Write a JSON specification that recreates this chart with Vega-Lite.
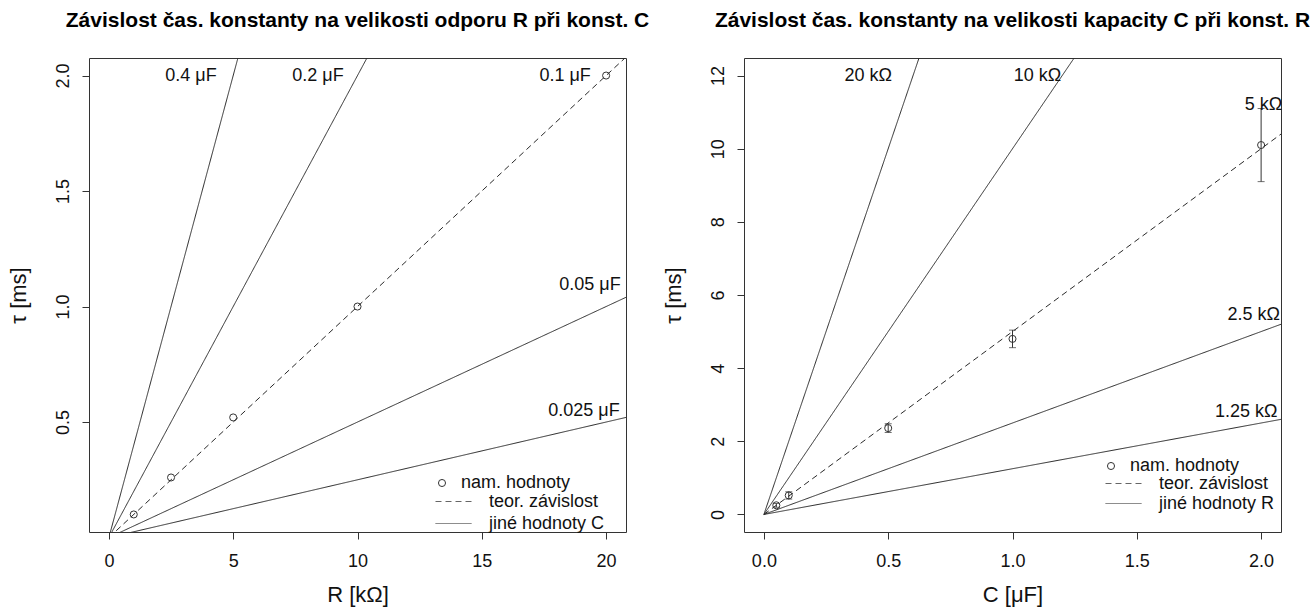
{
  "$schema": "https://vega.github.io/schema/vega-lite/v6.json",
  "background": "white",
  "padding": {"left": 6, "top": 9, "right": 5, "bottom": 5},
  "bounds": "flush",
  "spacing": 118,
  "resolve": {
    "scale": {"strokeDash": "independent", "shape": "independent", "x": "independent", "y": "independent"},
    "legend": {"strokeDash": "independent", "shape": "independent"}
  },
  "config": {
    "font": "Liberation Sans",
    "view": {"stroke": "#333", "strokeWidth": 1},
    "axis": {"domain": false, "grid": false, "ticks": true, "tickSize": 7, "tickColor": "#333", "tickWidth": 1,
      "labelFont": "Liberation Sans", "labelFontSize": 18, "labelColor": "#111", "labelFlush": false, "labelOverlap": false,
      "titleFont": "Liberation Sans", "titleFontSize": 22, "titleFontWeight": "normal", "titleColor": "#111"},
    "axisY": {"labelAngle": -90, "labelAlign": "center", "labelBaseline": "bottom", "labelPadding": 10, "titlePadding": 24},
    "axisX": {"labelPadding": 13, "titlePadding": 14},
    "title": {"font": "Liberation Sans", "fontSize": 21, "fontWeight": "bold", "color": "#000", "offset": 27, "anchor": "middle"},
    "legend": {"labelFont": "Liberation Sans", "labelFontSize": 18, "labelColor": "#111", "padding": 0, "orient": "none"},
    "text": {"font": "Liberation Sans", "fontSize": 18, "color": "#111"}
  },
  "hconcat": [
    {
      "width": 537,
      "height": 474,
      "title": "Závislost čas. konstanty na velikosti odporu R při konst. C",
      "layer": [
        {
          "data": {"values": [
            {"g": "0.4", "type": "jiné hodnoty C", "R": 0, "tau": 0},
            {"g": "0.4", "type": "jiné hodnoty C", "R": 21, "tau": 8.4},
            {"g": "0.2", "type": "jiné hodnoty C", "R": 0, "tau": 0},
            {"g": "0.2", "type": "jiné hodnoty C", "R": 21, "tau": 4.2},
            {"g": "0.1", "type": "teor. závislost", "R": 0, "tau": 0},
            {"g": "0.1", "type": "teor. závislost", "R": 21, "tau": 2.1},
            {"g": "0.05", "type": "jiné hodnoty C", "R": 0, "tau": 0},
            {"g": "0.05", "type": "jiné hodnoty C", "R": 21, "tau": 1.05},
            {"g": "0.025", "type": "jiné hodnoty C", "R": 0, "tau": 0},
            {"g": "0.025", "type": "jiné hodnoty C", "R": 21, "tau": 0.525}
          ]},
          "mark": {"type": "line", "clip": true, "color": "#2a2a2a", "strokeWidth": 1},
          "encoding": {
            "x": {"field": "R", "type": "quantitative", "scale": {"domain": [-0.8, 20.8], "nice": false, "zero": false},
              "axis": {"values": [0, 5, 10, 15, 20], "format": "d", "title": "R [kΩ]"}},
            "y": {"field": "tau", "type": "quantitative", "scale": {"domain": [0.024, 2.076], "nice": false, "zero": false},
              "axis": {"values": [0.5, 1.0, 1.5, 2.0], "format": ".1f", "title": "τ [ms]"}},
            "detail": {"field": "g"},
            "strokeDash": {"field": "type", "type": "nominal",
              "scale": {"domain": ["teor. závislost", "jiné hodnoty C"], "range": [[6, 4], [1, 0]]},
              "legend": {"title": null, "legendX": 355, "legendY": 434, "symbolType": "M-2,0H2", "symbolSize": 324, "symbolStrokeWidth": 1, "symbolStrokeColor": "#666", "labelOffset": 26, "rowPadding": 3}}
          }
        },
        {
          "data": {"values": [
            {"kind": "nam. hodnoty", "R": 1, "tau": 0.1},
            {"kind": "nam. hodnoty", "R": 2.5, "tau": 0.26},
            {"kind": "nam. hodnoty", "R": 5, "tau": 0.52},
            {"kind": "nam. hodnoty", "R": 10, "tau": 1.0},
            {"kind": "nam. hodnoty", "R": 20, "tau": 2.0}
          ]},
          "mark": {"type": "point", "filled": false, "color": "#333", "size": 50, "strokeWidth": 1, "opacity": 1},
          "encoding": {
            "x": {"field": "R", "type": "quantitative"},
            "y": {"field": "tau", "type": "quantitative"},
            "shape": {"field": "kind", "type": "nominal", "scale": {"domain": ["nam. hodnoty"], "range": ["circle"]},
              "legend": {"title": null, "legendX": 344, "legendY": 416, "symbolSize": 50, "symbolStrokeWidth": 1, "labelOffset": 10}}
          }
        },
        {
          "data": {"values": [
            {"label": "0.4 μF", "R": 3.3, "tau": 2.0},
            {"label": "0.2 μF", "R": 8.41, "tau": 2.0},
            {"label": "0.1 μF", "R": 18.35, "tau": 2.0},
            {"label": "0.05 μF", "R": 19.35, "tau": 1.093},
            {"label": "0.025 μF", "R": 19.11, "tau": 0.548}
          ]},
          "mark": {"type": "text", "align": "center", "baseline": "middle"},
          "encoding": {
            "x": {"field": "R", "type": "quantitative"},
            "y": {"field": "tau", "type": "quantitative"},
            "text": {"field": "label"}
          }
        }
      ]
    },
    {
      "width": 537,
      "height": 474,
      "title": "Závislost čas. konstanty na velikosti kapacity C při konst. R",
      "layer": [
        {
          "data": {"values": [
            {"g": "20", "type": "jiné hodnoty R", "C": 0, "tau": 0},
            {"g": "20", "type": "jiné hodnoty R", "C": 2.1, "tau": 42},
            {"g": "10", "type": "jiné hodnoty R", "C": 0, "tau": 0},
            {"g": "10", "type": "jiné hodnoty R", "C": 2.1, "tau": 21},
            {"g": "5", "type": "teor. závislost", "C": 0, "tau": 0},
            {"g": "5", "type": "teor. závislost", "C": 2.1, "tau": 10.5},
            {"g": "2.5", "type": "jiné hodnoty R", "C": 0, "tau": 0},
            {"g": "2.5", "type": "jiné hodnoty R", "C": 2.1, "tau": 5.25},
            {"g": "1.25", "type": "jiné hodnoty R", "C": 0, "tau": 0},
            {"g": "1.25", "type": "jiné hodnoty R", "C": 2.1, "tau": 2.625}
          ]},
          "mark": {"type": "line", "clip": true, "color": "#2a2a2a", "strokeWidth": 1},
          "encoding": {
            "x": {"field": "C", "type": "quantitative", "scale": {"domain": [-0.08, 2.08], "nice": false, "zero": false},
              "axis": {"values": [0, 0.5, 1.0, 1.5, 2.0], "format": ".1f", "title": "C [μF]"}},
            "y": {"field": "tau", "type": "quantitative", "scale": {"domain": [-0.48, 12.48], "nice": false, "zero": false},
              "axis": {"values": [0, 2, 4, 6, 8, 10, 12], "format": "d", "title": "τ [ms]"}},
            "detail": {"field": "g"},
            "strokeDash": {"field": "type", "type": "nominal",
              "scale": {"domain": ["teor. závislost", "jiné hodnoty R"], "range": [[6, 4], [1, 0]]},
              "legend": {"title": null, "legendX": 370, "legendY": 416, "symbolType": "M-2,0H2", "symbolSize": 324, "symbolStrokeWidth": 1, "symbolStrokeColor": "#666", "labelOffset": 26, "rowPadding": 1}}
          }
        },
        {
          "data": {"values": [
            {"C": 0.05, "lo": 0.2, "hi": 0.3},
            {"C": 0.1, "lo": 0.42, "hi": 0.62},
            {"C": 0.5, "lo": 2.24, "hi": 2.48},
            {"C": 1.0, "lo": 4.56, "hi": 5.04},
            {"C": 2.0, "lo": 9.1, "hi": 11.1}
          ]},
          "layer": [
            {"mark": {"type": "rule", "color": "#333", "strokeWidth": 1},
             "encoding": {"x": {"field": "C", "type": "quantitative"}, "y": {"field": "lo", "type": "quantitative"}, "y2": {"field": "hi"}}},
            {"mark": {"type": "tick", "orient": "horizontal", "color": "#333", "size": 7, "thickness": 1},
             "encoding": {"x": {"field": "C", "type": "quantitative"}, "y": {"field": "lo", "type": "quantitative"}}},
            {"mark": {"type": "tick", "orient": "horizontal", "color": "#333", "size": 7, "thickness": 1},
             "encoding": {"x": {"field": "C", "type": "quantitative"}, "y": {"field": "hi", "type": "quantitative"}}}
          ]
        },
        {
          "data": {"values": [
            {"kind": "nam. hodnoty", "C": 0.05, "tau": 0.25},
            {"kind": "nam. hodnoty", "C": 0.1, "tau": 0.52},
            {"kind": "nam. hodnoty", "C": 0.5, "tau": 2.36},
            {"kind": "nam. hodnoty", "C": 1.0, "tau": 4.8},
            {"kind": "nam. hodnoty", "C": 2.0, "tau": 10.1}
          ]},
          "mark": {"type": "point", "filled": false, "color": "#333", "size": 50, "strokeWidth": 1, "opacity": 1},
          "encoding": {
            "x": {"field": "C", "type": "quantitative"},
            "y": {"field": "tau", "type": "quantitative"},
            "shape": {"field": "kind", "type": "nominal", "scale": {"domain": ["nam. hodnoty"], "range": ["circle"]},
              "legend": {"title": null, "legendX": 358, "legendY": 399, "symbolSize": 50, "symbolStrokeWidth": 1, "labelOffset": 10}}
          }
        },
        {
          "data": {"values": [
            {"label": "20 kΩ", "C": 0.42, "tau": 12},
            {"label": "10 kΩ", "C": 1.1, "tau": 12},
            {"label": "5 kΩ", "C": 2.01, "tau": 11.2},
            {"label": "2.5 kΩ", "C": 1.97, "tau": 5.45},
            {"label": "1.25 kΩ", "C": 1.94, "tau": 2.8}
          ]},
          "mark": {"type": "text", "align": "center", "baseline": "middle"},
          "encoding": {
            "x": {"field": "C", "type": "quantitative"},
            "y": {"field": "tau", "type": "quantitative"},
            "text": {"field": "label"}
          }
        }
      ]
    }
  ]
}
